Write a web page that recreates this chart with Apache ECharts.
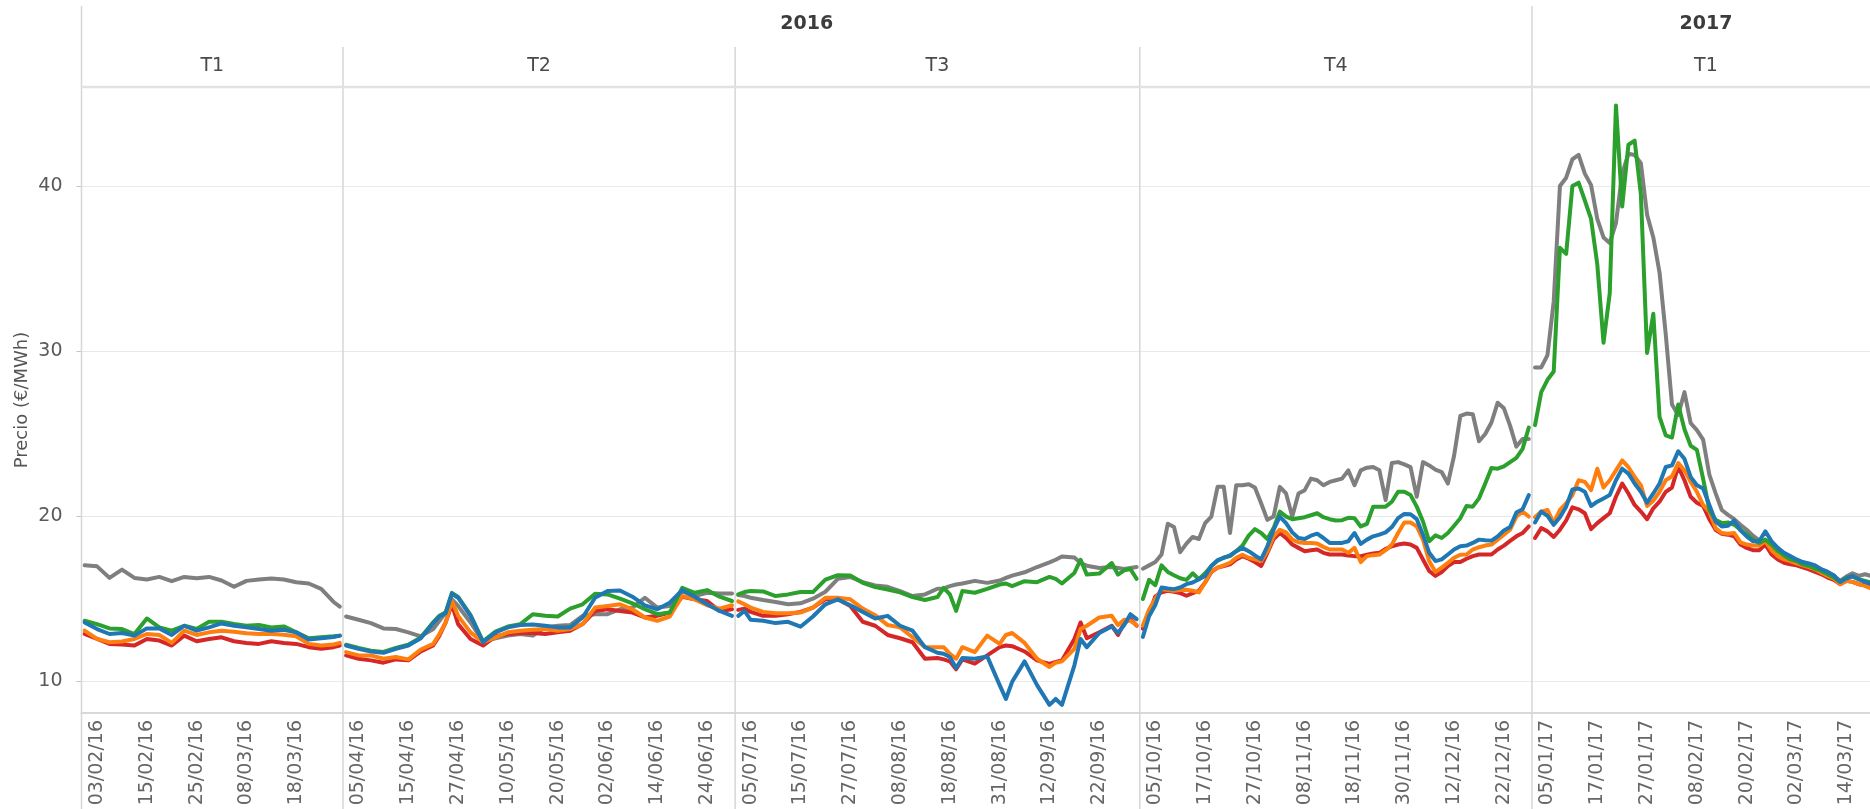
<!DOCTYPE html>
<html>
<head>
<meta charset="utf-8">
<title>Precio (€/MWh)</title>
<script src="https://cdn.jsdelivr.net/npm/echarts@6.0.0/dist/echarts.min.js"></script>
<style>
html, body { margin: 0; padding: 0; background: #fff; }
#chart { width: 1870px; height: 809px; }
</style>
</head>
<body>
<div id="chart"></div>
<script>
// dias sin cotizacion (ademas de sabados y domingos)
var festivos = ['25/03/16', '28/03/16', '02/05/16', '30/05/16', '29/08/16', '26/12/16', '27/12/16', '02/01/17'];
var trimestres = ['T1', 'T2', 'T3', 'T4', 'T1'];
var anios = ['2016', '2016', '2016', '2016', '2017'];
var inicios = ['01/02/16', '01/04/16', '01/07/16', '03/10/16', '03/01/17'];
var fines = ['31/03/16', '30/06/16', '30/09/16', '30/12/16', '31/03/17'];
var yTicks = [10, 20, 30, 40];

// fechas de las lecturas
var fechas = [
  // T1 2016
  '01/02/16','03/02/16','05/02/16','09/02/16','11/02/16','15/02/16','17/02/16','19/02/16','23/02/16','25/02/16','29/02/16',
  '02/03/16','04/03/16','08/03/16','10/03/16','14/03/16','16/03/16','18/03/16','22/03/16','24/03/16','30/03/16','31/03/16',
  // T2 2016
  '01/04/16','05/04/16','07/04/16','11/04/16','13/04/16','15/04/16','19/04/16','21/04/16','22/04/16','25/04/16','26/04/16',
  '27/04/16','29/04/16','04/05/16','06/05/16','10/05/16','12/05/16','16/05/16','18/05/16','20/05/16','24/05/16','26/05/16',
  '31/05/16','02/06/16','06/06/16','08/06/16','10/06/16','14/06/16','16/06/16','20/06/16','22/06/16','24/06/16','28/06/16','30/06/16',
  // T3 2016
  '01/07/16','04/07/16','05/07/16','07/07/16','11/07/16','13/07/16','15/07/16','19/07/16','21/07/16','25/07/16','27/07/16',
  '29/07/16','02/08/16','04/08/16','08/08/16','10/08/16','12/08/16','16/08/16','17/08/16','18/08/16','19/08/16','22/08/16',
  '24/08/16','26/08/16','31/08/16','01/09/16','02/09/16','06/09/16','08/09/16','12/09/16','13/09/16','14/09/16','16/09/16',
  '19/09/16','20/09/16','22/09/16','26/09/16','27/09/16','28/09/16','29/09/16','30/09/16',
  // T4 2016
  '03/10/16','04/10/16','05/10/16','06/10/16','07/10/16','10/10/16','11/10/16','12/10/16','13/10/16','14/10/16',
  '17/10/16','18/10/16','19/10/16','20/10/16','21/10/16','24/10/16','25/10/16','26/10/16','27/10/16','28/10/16','31/10/16',
  '01/11/16','02/11/16','03/11/16','04/11/16','07/11/16','08/11/16','09/11/16','10/11/16','11/11/16',
  '14/11/16','15/11/16','16/11/16','17/11/16','18/11/16','21/11/16','22/11/16','23/11/16','24/11/16','25/11/16',
  '28/11/16','29/11/16','30/11/16','01/12/16','02/12/16','05/12/16','06/12/16','07/12/16','08/12/16','09/12/16',
  '12/12/16','13/12/16','14/12/16','15/12/16','16/12/16','19/12/16','20/12/16','21/12/16','22/12/16','23/12/16',
  '28/12/16','29/12/16','30/12/16',
  // T1 2017
  '03/01/17','04/01/17','05/01/17','06/01/17','09/01/17','10/01/17','11/01/17','12/01/17','13/01/17',
  '16/01/17','17/01/17','18/01/17','19/01/17','20/01/17','23/01/17','24/01/17','25/01/17','26/01/17','27/01/17',
  '30/01/17','31/01/17','01/02/17','02/02/17','03/02/17','06/02/17','07/02/17','08/02/17','09/02/17','10/02/17',
  '13/02/17','14/02/17','15/02/17','16/02/17','17/02/17','20/02/17','21/02/17','22/02/17','23/02/17','24/02/17',
  '27/02/17','28/02/17','01/03/17','02/03/17','03/03/17','06/03/17','07/03/17','08/03/17','09/03/17','10/03/17',
  '13/03/17','14/03/17','15/03/17','16/03/17','17/03/17','20/03/17'
];

var gris = [
  17.0,16.94,16.24,16.74,16.24,16.14,16.3,16.04,16.3,16.22,16.3,16.08,15.7,16.06,16.14,16.2,16.14,15.98,15.9,15.58,14.78,14.5,
  13.9,13.7,13.5,13.18,13.14,12.94,12.7,13.14,13.64,14.14,14.94,14.54,13.54,12.38,12.58,12.74,12.84,12.74,13.24,13.34,13.38,13.94,
  14.04,14.04,14.34,14.44,15.04,14.44,14.54,15.44,15.14,15.34,15.3,15.3,
  15.2,15.14,15.04,14.9,14.78,14.64,14.7,14.98,15.4,16.18,16.3,15.98,15.78,15.7,15.44,15.14,15.24,15.58,15.6,15.74,15.84,15.9,
  16.06,15.94,16.08,16.24,16.38,16.58,16.9,17.18,17.34,17.54,17.48,17.14,16.98,16.84,16.9,16.84,16.78,16.84,16.9,
  16.8,17.0,17.2,17.66,19.52,19.32,17.8,18.32,18.72,18.6,19.56,19.96,21.76,21.76,18.96,21.86,21.86,21.92,21.72,20.76,
  19.76,19.96,21.76,21.36,19.96,21.36,21.56,22.26,22.16,21.86,22.06,22.16,22.26,22.76,21.86,22.76,22.92,22.96,22.76,20.96,
  23.2,23.26,23.12,22.96,21.16,23.26,23.06,22.8,22.66,21.96,23.66,26.06,26.2,26.16,24.52,24.96,25.66,26.86,26.52,25.46,
  24.2,24.66,24.66,
  29.0,29.0,29.75,33.0,40.0,40.5,41.62,41.88,40.75,40.05,38.0,36.88,36.55,37.75,40.75,41.95,41.88,41.38,38.25,36.88,
  34.75,31.0,26.75,26.12,27.5,25.62,25.2,24.62,22.5,21.38,20.36,20.06,19.8,19.46,19.16,18.8,18.52,18.36,18.16,17.96,
  17.72,17.52,17.32,17.16,17.06,16.92,16.76,16.6,16.36,16.06,16.32,16.52,16.36,16.46,16.36
];

var verde = [
  13.64,13.44,13.18,13.14,12.84,13.78,13.24,13.04,13.34,13.14,13.58,13.58,13.44,13.34,13.38,13.24,13.3,12.94,12.58,12.64,12.7,12.74,
  12.19,11.99,11.83,11.75,11.99,12.19,12.63,13.55,13.95,14.15,15.33,15.09,13.99,12.39,12.99,13.29,
  13.44,14.04,13.94,13.9,14.38,14.64,15.28,15.24,14.98,14.7,14.34,14.04,14.14,15.64,15.34,15.5,15.1,14.84,
  15.24,15.38,15.44,15.42,15.14,15.24,15.38,15.38,16.14,16.4,16.38,15.94,15.68,15.54,15.36,15.08,14.9,15.08,15.64,15.24,
  14.24,15.44,15.34,15.58,15.84,15.9,15.74,16.04,15.98,16.3,16.18,15.9,16.54,17.34,16.44,16.5,17.14,16.44,16.7,16.78,16.18,
  14.96,16.12,15.8,17.0,16.6,16.4,16.22,16.12,16.52,16.16,16.52,16.96,17.28,17.48,17.56,17.86,18.2,18.8,19.2,18.96,
  18.6,19.26,20.26,19.96,19.8,19.86,19.92,20.04,20.16,19.92,19.8,19.72,19.74,19.88,19.86,19.36,19.52,20.56,20.56,20.56,
  20.86,21.46,21.46,21.26,20.56,19.66,18.46,18.82,18.66,18.96,19.4,19.86,20.6,20.56,21.06,21.96,22.9,22.86,23.0,23.26,
  23.52,24.06,25.36,
  25.5,27.5,28.25,28.75,36.25,35.88,40.0,40.2,39.12,38.0,35.25,30.5,33.5,44.88,38.75,42.5,42.75,39.5,29.88,32.25,
  26.0,24.88,24.75,26.75,25.25,24.25,24.0,22.25,20.36,19.76,19.56,19.6,19.46,19.16,18.86,18.56,18.36,18.56,18.26,17.86,
  17.6,17.36,17.26,17.06,16.96,16.8,16.66,16.46,16.26,16.0,16.26,16.32,16.16,16.06,15.96
];

var azul = [
  13.54,13.14,12.84,12.9,12.74,13.18,13.18,12.78,13.34,13.04,13.24,13.48,13.34,13.24,13.14,13.04,13.1,12.94,12.5,12.58,12.66,12.74,
  12.14,11.94,11.78,11.7,11.94,12.14,12.58,13.5,13.9,14.1,15.28,15.04,13.94,12.34,12.94,13.24,13.38,13.42,13.34,13.24,13.24,13.84,
  15.04,15.44,15.48,15.1,14.58,14.34,14.74,15.5,15.1,14.64,14.24,13.94,
  13.94,14.24,13.7,13.64,13.5,13.58,13.28,13.9,14.64,14.94,14.58,14.18,13.78,13.94,13.34,13.04,12.04,11.7,11.64,11.44,
  10.78,11.38,11.34,11.48,9.74,8.9,9.94,11.18,9.74,8.54,8.9,8.54,10.94,12.54,12.04,12.9,13.3,12.9,13.38,14.04,13.74,
  12.66,13.92,14.6,15.66,15.6,15.56,15.66,15.86,15.96,16.16,16.36,16.96,17.32,17.46,17.6,17.86,18.06,17.86,17.6,17.36,
  18.16,19.16,19.96,19.56,19.0,18.66,18.6,18.8,18.92,18.66,18.36,18.36,18.36,18.46,18.96,18.3,18.56,18.76,18.86,19.0,
  19.32,19.86,20.12,20.1,19.8,18.86,17.76,17.26,17.36,17.66,17.96,18.16,18.2,18.36,18.56,18.52,18.5,18.76,19.12,19.32,
  20.2,20.4,21.26,
  19.6,20.26,20.0,19.46,19.92,20.56,21.6,21.66,21.46,20.6,20.86,21.06,21.26,22.16,22.86,22.56,21.96,21.46,20.8,21.36,
  21.96,22.96,23.06,23.92,23.46,22.36,21.86,21.66,20.66,19.66,19.36,19.4,19.72,19.12,18.76,18.46,18.46,19.06,18.46,18.06,
  17.76,17.56,17.36,17.2,17.12,17.0,16.76,16.6,16.4,16.0,16.2,16.36,16.16,16.0,15.86
];

var naranja = [
  13.04,12.54,12.34,12.38,12.54,12.84,12.78,12.3,13.04,12.78,12.94,13.04,12.98,12.88,12.84,12.84,12.8,12.7,12.24,12.14,12.2,12.3,
  11.74,11.54,11.54,11.34,11.44,11.3,11.9,12.24,12.84,13.54,14.84,13.94,12.94,12.34,12.64,12.94,13.04,13.1,13.14,13.04,13.14,13.44,
  14.44,14.54,14.64,14.34,13.84,13.64,13.9,15.14,14.94,14.58,14.38,14.58,
  14.82,14.64,14.44,14.18,14.1,14.1,14.14,14.44,15.04,15.04,14.94,14.38,13.98,13.38,13.24,12.64,12.04,12.04,12.04,11.64,
  11.34,12.04,11.74,12.74,12.24,12.78,12.9,12.3,11.34,10.84,11.1,11.18,11.94,13.14,13.34,13.84,13.94,13.38,13.7,13.64,13.38,
  13.36,14.32,14.96,15.56,15.5,15.46,15.5,15.52,15.46,15.36,15.96,16.66,16.86,17.0,17.16,17.46,17.64,17.46,17.36,17.26,
  17.86,18.76,19.16,19.0,18.56,18.4,18.36,18.36,18.32,18.12,17.96,17.96,17.96,17.76,18.06,17.2,17.56,17.62,17.66,17.92,
  18.26,18.96,19.6,19.6,19.36,18.56,17.26,16.6,16.86,17.16,17.46,17.64,17.66,17.96,18.1,18.2,18.26,18.56,18.86,19.16,
  19.96,20.26,19.96,
  19.92,20.26,20.36,19.56,20.36,20.76,21.26,22.16,22.06,21.56,22.86,21.72,22.16,22.76,23.36,22.96,22.36,21.86,20.6,20.92,
  21.46,22.16,22.4,23.2,22.76,22.06,21.46,20.66,20.26,19.26,18.96,18.92,18.96,18.4,18.26,18.2,18.2,18.46,17.92,17.56,
  17.36,17.26,17.12,17.0,16.9,16.76,16.56,16.36,16.2,15.86,16.06,16.0,15.86,15.76,15.6
];

var rojo = [
  12.84,12.54,12.24,12.2,12.14,12.54,12.44,12.14,12.74,12.4,12.54,12.64,12.4,12.3,12.24,12.4,12.3,12.24,12.04,11.94,12.04,12.14,
  11.54,11.34,11.24,11.1,11.3,11.24,11.78,12.14,12.74,13.54,14.64,13.44,12.54,12.14,12.7,12.84,12.9,12.9,12.84,12.94,13.04,13.44,
  14.24,14.34,14.24,14.14,13.84,13.94,14.14,15.1,14.94,14.84,14.24,14.34,
  14.3,14.38,14.18,13.94,13.94,14.04,14.18,14.44,14.94,14.94,14.54,13.58,13.34,12.78,12.58,12.34,11.34,11.38,11.3,11.18,
  10.7,11.3,11.04,11.54,12.04,12.14,12.1,11.78,11.24,11.02,11.14,11.24,12.54,13.54,12.58,12.94,13.34,12.78,13.5,13.74,13.34,
  13.16,14.06,15.12,15.36,15.46,15.4,15.32,15.16,15.32,15.46,15.96,16.6,16.86,16.96,17.06,17.36,17.56,17.4,17.2,16.96,
  17.76,18.6,18.96,18.66,18.26,18.06,17.86,17.92,17.96,17.76,17.66,17.66,17.66,17.6,17.56,17.56,17.64,17.72,17.76,18.0,
  18.16,18.26,18.32,18.26,18.06,17.36,16.66,16.36,16.6,16.96,17.2,17.2,17.4,17.56,17.66,17.66,17.66,17.96,18.2,18.48,
  18.76,18.96,19.36,
  18.66,19.26,19.06,18.72,19.16,19.72,20.52,20.4,20.16,19.2,19.56,19.86,20.16,21.16,21.96,21.36,20.66,20.26,19.8,20.46,
  20.86,21.46,21.72,23.0,22.16,21.16,20.8,20.6,19.8,19.16,18.92,18.86,18.76,18.26,18.06,17.92,17.92,18.26,17.66,17.36,
  17.16,17.06,17.0,16.88,16.76,16.6,16.46,16.26,16.12,15.86,16.06,16.0,15.86,15.8,15.72
];

// orden de dibujo: de abajo a arriba
var lineas = [
  { nombre: 'gris', color: '#7f7f7f', valores: gris },
  { nombre: 'rojo', color: '#d62728', valores: rojo },
  { nombre: 'naranja', color: '#ff7f0e', valores: naranja },
  { nombre: 'verde', color: '#2ca02c', valores: verde },
  { nombre: 'azul', color: '#1f77b4', valores: azul }
];

function pad(n) { return n < 10 ? '0' + n : '' + n; }
function parseFecha(s) {
  var p = s.split('/');
  return Date.UTC(2000 + parseInt(p[2], 10), parseInt(p[1], 10) - 1, parseInt(p[0], 10));
}
function fmt(t) {
  var d = new Date(t);
  return pad(d.getUTCDate()) + '/' + pad(d.getUTCMonth() + 1) + '/' + String(d.getUTCFullYear()).slice(2);
}
function diasHabiles(ini, fin) {
  var out = [];
  for (var t = parseFecha(ini); t <= parseFecha(fin); t += 86400000) {
    var wd = new Date(t).getUTCDay();
    var s = fmt(t);
    if (wd === 0 || wd === 6 || festivos.indexOf(s) >= 0) continue;
    out.push(s);
  }
  return out;
}

var ANCHO = 1870, ALTO = 809;
var x0 = 81.5, anchoDia = 6.225, gridTop = 87, gridAlto = 626;
var fuente = 'DejaVu Sans';

var cats = inicios.map(function (ini, k) { return diasHabiles(ini, fines[k]); });
var lefts = [], anchos = [];
var acum = x0;
cats.forEach(function (c) { lefts.push(acum); anchos.push(c.length * anchoDia); acum += c.length * anchoDia; });

var grids = [], xAxes = [], yAxes = [], serie = [];
cats.forEach(function (c, k) {
  grids.push({ left: lefts[k], top: gridTop, width: anchos[k], height: gridAlto, outerBoundsMode: 'none', containLabel: false });
  xAxes.push({
    type: 'category', gridIndex: k, data: c, boundaryGap: true,
    axisLine: { lineStyle: { color: '#d9d9d9', width: 2 } },
    axisTick: { interval: function (i) { return i % 4 === 2; }, alignWithLabel: true, length: 4, lineStyle: { color: '#c4c4c4' } },
    axisLabel: {
      interval: function (i) { return i % 8 === 2; }, rotate: 90, margin: 7, hideOverlap: false,
      color: '#666', fontSize: 19, fontFamily: fuente
    },
    splitLine: { show: false }
  });
  yAxes.push({
    type: 'value', gridIndex: k, min: 8.05, max: 46,
    axisLine: { show: false },
    axisTick: { show: k === 0, length: 5, customValues: yTicks, lineStyle: { color: '#c4c4c4' } },
    axisLabel: { show: k === 0, customValues: yTicks, margin: 19, color: '#5a5a5a', fontSize: 19, fontFamily: fuente },
    splitLine: { show: true, lineStyle: { color: '#e9e9e9', width: 1 } },
    name: k === 0 ? 'Precio (€/MWh)' : '',
    nameLocation: 'middle', nameGap: 50,
    nameTextStyle: { color: '#555', fontSize: 18, fontFamily: fuente }
  });
  lineas.forEach(function (s) {
    var data = [];
    fechas.forEach(function (f, j) {
      var idx = c.indexOf(f);
      if (idx >= 0) data.push([idx, s.valores[j]]);
    });
    serie.push({
      type: 'line', name: s.nombre, xAxisIndex: k, yAxisIndex: k, data: data,
      showSymbol: false, symbol: 'none', silent: true,
      lineStyle: { color: s.color, width: 4, join: 'round', cap: 'round' },
      itemStyle: { color: s.color }
    });
  });
});

// marcos y cabeceras estilo tabla
var graficos = [];
function linea(xa, ya, xb, yb, w, col) {
  graficos.push({ type: 'line', silent: true, z: 50,
    shape: { x1: xa, y1: ya, x2: xb, y2: yb }, style: { stroke: col, lineWidth: w } });
}
function texto(txt, x, y, bold, col) {
  graficos.push({ type: 'text', silent: true, z: 50, x: x, y: y,
    style: { text: txt, fill: col, font: (bold ? 'bold ' : '') + '19px "' + fuente + '"', textAlign: 'center', textVerticalAlign: 'middle' } });
}
var visibleDer = 1880;
linea(x0, 6, x0, ALTO, 1.5, '#d6d6d6');
cats.forEach(function (c, k) {
  if (k === 0) return;
  var nuevoAnio = anios[k] !== anios[k - 1];
  linea(lefts[k], nuevoAnio ? 6 : 47, lefts[k], ALTO, 1.5, '#d6d6d6');
});
linea(x0, gridTop, ANCHO, gridTop, 2.5, '#e2e2e2');
cats.forEach(function (c, k) {
  var der = Math.min(lefts[k] + anchos[k], visibleDer);
  texto(trimestres[k], (lefts[k] + der) / 2, 66, false, '#4a4a4a');
});
['2016', '2017'].forEach(function (a) {
  var ini = null, fin = null;
  cats.forEach(function (c, k) {
    if (anios[k] !== a) return;
    if (ini === null) ini = lefts[k];
    fin = Math.min(lefts[k] + anchos[k], visibleDer);
  });
  texto(a, (ini + fin) / 2, 24, true, '#3c3c3c');
});

var chart = echarts.init(document.getElementById('chart'), null, { renderer: 'canvas' });
chart.setOption({
  animation: false,
  backgroundColor: '#fff',
  grid: grids,
  xAxis: xAxes,
  yAxis: yAxes,
  series: serie,
  graphic: graficos
});
</script>
</body>
</html>
